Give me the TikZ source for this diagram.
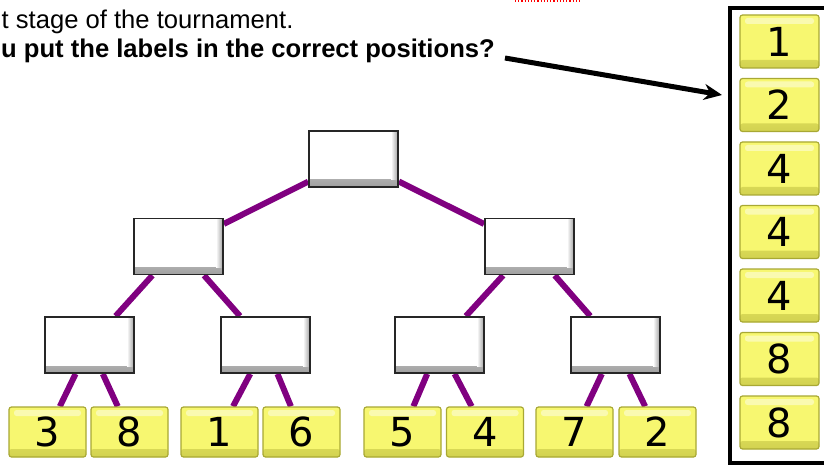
\documentclass[tikz,border=0pt]{standalone}
\usepackage{fontspec}
\setmainfont{Liberation Sans}
\newfontfamily\digitfont{DejaVu Sans}
\usepackage{tikz}
\usetikzlibrary{positioning}
\usetikzlibrary{arrows.meta}
\usetikzlibrary{backgrounds}
\usepackage{xcolor}
\definecolor{linkpurple}{RGB}{128,0,128}
\definecolor{tilefill}{RGB}{247,247,112}
\definecolor{tileedge}{RGB}{168,168,52}
\definecolor{tiledark}{RGB}{210,210,80}
\definecolor{boxshade}{RGB}{160,160,160}

\begin{document}
\begin{tikzpicture}[x=1pt, y=-1pt,
    slot/.style = {draw=black!85, line width=1.8pt, fill=white,
      minimum width=89pt, minimum height=56pt, inner sep=0pt,
      path picture={
        \shade[top color=white, bottom color=boxshade]
          ([yshift=7pt]path picture bounding box.south west) rectangle (path picture bounding box.south east);
        \shade[left color=white, right color=boxshade]
          ([xshift=-7pt]path picture bounding box.north east) rectangle ([yshift=7pt]path picture bounding box.south east);
      }},
    tile/.style = {draw=tileedge, line width=1.2pt, rounded corners=2.5pt, fill=tilefill,
      minimum width=77pt, minimum height=50pt, inner sep=0pt,
      font=\digitfont\fontsize{40}{40}\selectfont,
      path picture={
        \shade[top color=tilefill, bottom color=tiledark]
          ([yshift=8pt]path picture bounding box.south west) rectangle (path picture bounding box.south east);
        \fill[white, opacity=0.45]
          ([xshift=5pt,yshift=-3pt]path picture bounding box.north west) rectangle ([xshift=-5pt,yshift=-9pt]path picture bounding box.north east);
      }},
    sidetile/.style = {tile, minimum width=79pt, minimum height=53pt},
    link/.style = {draw=linkpurple, line width=6pt},
    line1/.style = {anchor=base west, inner sep=0pt, font=\fontsize{25.6}{30}\selectfont}
    ]
    \useasboundingbox (0,0) rectangle (824,465);

    % question text
    \node[line1] (intro) at (1.5,29) {t stage of the tournament.};
    \node[line1, inner xsep=10pt, font=\fontsize{25.6}{30}\selectfont\bfseries] (ask) at (-9,58)
        {u put the labels in the correct positions?};
    \draw[red, line width=1.2pt, dotted] (515,1) -- (581,1);

    % empty bracket
    \node[slot] (final) at (353.5,159) {};
    \node[slot] (semiA) at (178.5,246.5) {};
    \node[slot] (semiB) at (529.5,246.5) {};
    \node[slot] (quarterA) at (89.5,345) {};
    \node[slot] (quarterB) at (265.5,345) {};
    \node[slot] (quarterC) at (439.5,345) {};
    \node[slot] (quarterD) at (615.5,345) {};

    % players
    \node[tile] (seedA) at (47.5,432) {3};
    \node[tile] (seedB) at (129.5,432) {8};
    \node[tile] (seedC) at (219.5,432) {1};
    \node[tile] (seedD) at (301.5,432) {6};
    \node[tile] (seedE) at (402.5,432) {5};
    \node[tile] (seedF) at (485,432) {4};
    \node[tile] (seedG) at (574.5,432) {7};
    \node[tile] (seedH) at (657.5,432) {2};

    \begin{pgfonlayer}{background}
    \draw[link] (final) -- (semiA);
    \draw[link] (final) -- (semiB);
    \draw[link] (semiA) -- (quarterA);
    \draw[link] (semiA) -- (quarterB);
    \draw[link] (semiB) -- (quarterC);
    \draw[link] (semiB) -- (quarterD);
    \draw[link] (quarterA) -- (seedA);
    \draw[link] (quarterA) -- (seedB);
    \draw[link] (quarterB) -- (seedC);
    \draw[link] (quarterB) -- (seedD);
    \draw[link] (quarterC) -- (seedE);
    \draw[link] (quarterC) -- (seedF);
    \draw[link] (quarterD) -- (seedG);
    \draw[link] (quarterD) -- (seedH);
    \end{pgfonlayer}

    % label box
    \draw[line width=4.5pt] (850,8) -- (730,8) -- (730,463) -- (850,463);
    \foreach \v [count=\i] in {1,2,4,4,4,8,8}
        \node[sidetile] (label\i) at (779.5,{41.5+63.5*(\i-1)}) {\v};
    \coordinate (frametip) at (722,95);
    \draw[line width=5pt, -{Stealth[length=18pt, width=16pt]}] (ask.base east) -- (frametip);
\end{tikzpicture}
\end{document}
